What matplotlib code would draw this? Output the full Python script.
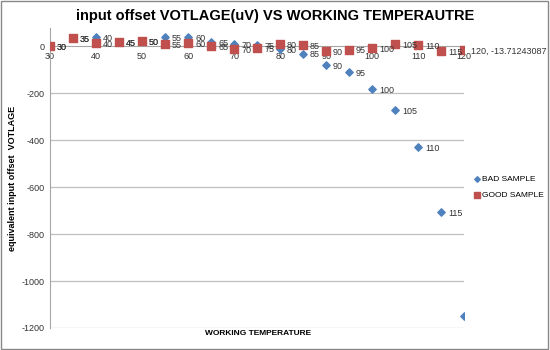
import matplotlib
matplotlib.use("Agg")
import matplotlib.pyplot as plt
from matplotlib.patches import Rectangle

plt.rcParams["font.family"] = ["Liberation Sans Narrow", "Liberation Sans", "DejaVu Sans"]
plt.rcParams["axes.unicode_minus"] = False

# ---- data ---------------------------------------------------------------
temps = [30, 35, 40, 45, 50, 55, 60, 65, 70, 75, 80, 85, 90, 95, 100, 105, 110, 115, 120]
bad = [0, 35, 41, 20, 24, 38, 40, 20, 10, 4, -13, -31, -80, -108, -183, -271, -428, -706, -1149]
good = [0, 35, 13, 20, 24, 11, 15, 0, -10, -6, 10, 7, -20, -14, -9, 10, 7, -19, -13.71243087]

BLUE = "#4F81BD"
RED = "#C0504D"
GRID = "#BFBFBF"
TXT = "#333333"

fig = plt.figure(figsize=(5.5, 3.5), dpi=100)
ax = fig.add_axes([0.091, 0.063, 0.753, 0.857])

ax.scatter(temps, bad, marker="D", s=14, c=BLUE, label="BAD SAMPLE", zorder=3)
ax.scatter(temps, good, marker="s", s=26, c=RED, label="GOOD SAMPLE", zorder=3)

# the last bad point has no label in the reference
for t, v in zip(temps[:-1], bad[:-1]):
    ax.annotate(str(t), (t, v), xytext=(5, -1), textcoords="offset points",
                fontsize=6.5, color=TXT, va="center")
for t, v in zip(temps, good):
    lab = f"{t}, {v}" if t == 120 else str(t)
    ax.annotate(lab, (t, v), xytext=(5, -1), textcoords="offset points",
                fontsize=6.5, color=TXT, va="center")

ax.set_xlim(30, 120)
ax.set_ylim(-1200, 78)
ax.set_xticks(range(30, 121, 10))
ax.set_yticks(range(-1200, 1, 200))
for y in range(-1200, 0, 200):
    ax.axhline(y, color=GRID, lw=0.9, zorder=1)

ax.spines["bottom"].set_position(("data", 0))
ax.spines["bottom"].set_color("#A6A6A6")
ax.spines["left"].set_color("#A6A6A6")
ax.spines["top"].set_visible(False)
ax.spines["right"].set_visible(False)
ax.tick_params(axis="both", labelsize=6.5, colors=TXT, length=0, pad=4)

fig.suptitle("input offset VOTLAGE(uV) VS WORKING TEMPERAUTRE",
             fontsize=10.5, fontweight="bold", x=0.5, y=0.975)
ax.set_ylabel("equivalent input offset  VOTLAGE", fontsize=6.5, fontweight="bold", labelpad=3)
fig.text(0.47, 0.048, "WORKING TEMPERATURE", fontsize=6, fontweight="bold",
         ha="center", va="center")

ax.legend(loc="center left", bbox_to_anchor=(1.02, 0.47), frameon=False,
          fontsize=6, handletextpad=0.0, handlelength=1.1, markerscale=0.75,
          labelspacing=1.0, borderaxespad=0, borderpad=0)

# chart-area border
fig.patches.append(Rectangle((0.002, 0.003), 0.995, 0.993, transform=fig.transFigure,
                             fill=False, edgecolor="#888888", lw=1))

fig.savefig("out.png", dpi=100)
